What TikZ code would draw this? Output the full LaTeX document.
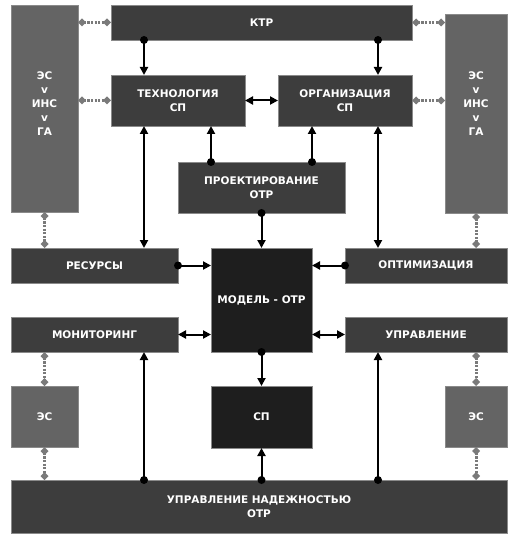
\documentclass[tikz,border=0pt]{standalone}
\usepackage{fontspec}
\setmainfont{DejaVu Sans}
\usetikzlibrary{arrows.meta}

\definecolor{boxgray}{HTML}{3D3D3D}
\definecolor{boxdark}{HTML}{1E1E1E}
\definecolor{boxlight}{HTML}{646464}
\definecolor{edgegray}{HTML}{8A8A8A}
\definecolor{linkgray}{HTML}{7A7A7A}

\providecommand*{\colL}{}
\providecommand*{\colR}{}
\renewcommand*{\colL}{144}
\renewcommand*{\colR}{378}

% dot on the first node, arrow head on the second
\providecommand*{\dotarr}[2]{%
  \fill (#1) circle (4pt);
  \draw [arr] (#1) -- (#2);}

\begin{document}
\begin{tikzpicture}[x=1pt,y=-1pt,
  box/.style={rectangle,fill=boxgray,draw=edgegray,line width=0.4pt,
    inner sep=0pt,outer sep=0pt,align=center,text=white,
    font=\fontsize{10.5}{14}\selectfont\bfseries},
  dark/.style={box,fill=boxdark},
  light/.style={box,fill=boxlight},
  arr/.style={-{Triangle[length=8pt,width=8pt]},line width=2pt},
  dblarr/.style={{Triangle[length=8pt,width=8pt]}-{Triangle[length=8pt,width=8pt]},line width=2pt},
  link/.style={{Diamond[length=8pt,width=8pt]}-{Diamond[length=8pt,width=8pt]},
    linkgray,line width=3pt,dash pattern=on 2.2pt off 1.4pt}]
\useasboundingbox (0,0) rectangle (507,534);

%top row
\node [box,minimum width=301pt,minimum height=35pt] (ktr) at (261.5,22.5) {КТР};
\node [light,minimum width=67pt,minimum height=207pt,text depth=10pt] (esL) at (44.5,108.5) {ЭС\\v\\ИНС\\v\\ГА};
\node [light,minimum width=62pt,minimum height=199pt,text depth=20pt] (esR) at (476,113.5) {ЭС\\v\\ИНС\\v\\ГА};
\node [box,minimum width=134pt,minimum height=51pt] (tech) at (178,100.5) {ТЕХНОЛОГИЯ\\СП};
\node [box,minimum width=134pt,minimum height=51pt] (org) at (345,100.5) {ОРГАНИЗАЦИЯ\\СП};
\node [box,minimum width=167pt,minimum height=51pt] (proj) at (261.5,187.5) {ПРОЕКТИРОВАНИЕ\\ОТР};
%middle
\node [box,minimum width=167pt,minimum height=35pt] (res) at (94.5,265.5) {РЕСУРСЫ};
\node [dark,minimum width=101pt,minimum height=104pt] (model) at (261.5,300) {МОДЕЛЬ - ОТР};
\node [box,minimum width=162pt,minimum height=35pt] (opt) at (426,265.5) {ОПТИМИЗАЦИЯ};
\node [box,minimum width=167pt,minimum height=35pt] (mon) at (94.5,334.5) {МОНИТОРИНГ};
\node [box,minimum width=162pt,minimum height=35pt] (upr) at (426,334.5) {УПРАВЛЕНИЕ};
%lower
\node [dark,minimum width=101pt,minimum height=62pt] (sp) at (261.5,417) {СП};
\node [light,minimum width=67pt,minimum height=61pt] (esLs) at (44.5,416.5) {ЭС};
\node [light,minimum width=62pt,minimum height=61pt] (esRs) at (476,416.5) {ЭС};
\node [box,minimum width=496pt,minimum height=53pt] (rel) at (259,506.5) {УПРАВЛЕНИЕ НАДЕЖНОСТЬЮ\\ОТР};

\coordinate (cl) at (\colL,0);
\coordinate (cr) at (\colR,0);

%grey links
\draw [link] (esL.east |- ktr.west) -- (ktr.west);
\draw [link] (esL.east |- tech.west) -- (tech.west);
\draw [link] (ktr.east) -- (esR.west |- ktr.east);
\draw [link] (org.east) -- (esR.west |- org.east);
\draw [link] (esL.south) -- (esL.south |- res.north);
\draw [link] (esR.south) -- (esR.south |- opt.north);
\draw [link] (mon.south -| esLs) -- (esLs.north);
\draw [link] (esLs.south) -- (esLs.south |- rel.north);
\draw [link] (upr.south -| esRs) -- (esRs.north);
\draw [link] (esRs.south) -- (esRs.south |- rel.north);

%v
\dotarr{ktr.south -| cl}{tech.north -| cl}
\dotarr{ktr.south -| cr}{org.north -| cr}
\dotarr{proj.north -| model.west}{tech.south -| model.west}
\dotarr{proj.north -| model.east}{org.south -| model.east}
\dotarr{proj.south}{model.north}
\dotarr{model.south}{sp.north}
\dotarr{rel.north -| sp}{sp.south}
\dotarr{rel.north -| cl}{mon.south -| cl}
\dotarr{rel.north -| cr}{upr.south -| cr}
\draw [dblarr] (tech.south -| cl) -- (res.north -| cl);
\draw [dblarr] (org.south -| cr) -- (opt.north -| cr);
%h
\draw [dblarr] (tech.east) -- (org.west);
\dotarr{res.east}{res.east -| model.west}
\dotarr{opt.west}{opt.west -| model.east}
\draw [dblarr] (mon.east) -- (mon.east -| model.west);
\draw [dblarr] (upr.west) -- (upr.west -| model.east);
\end{tikzpicture}
\end{document}
